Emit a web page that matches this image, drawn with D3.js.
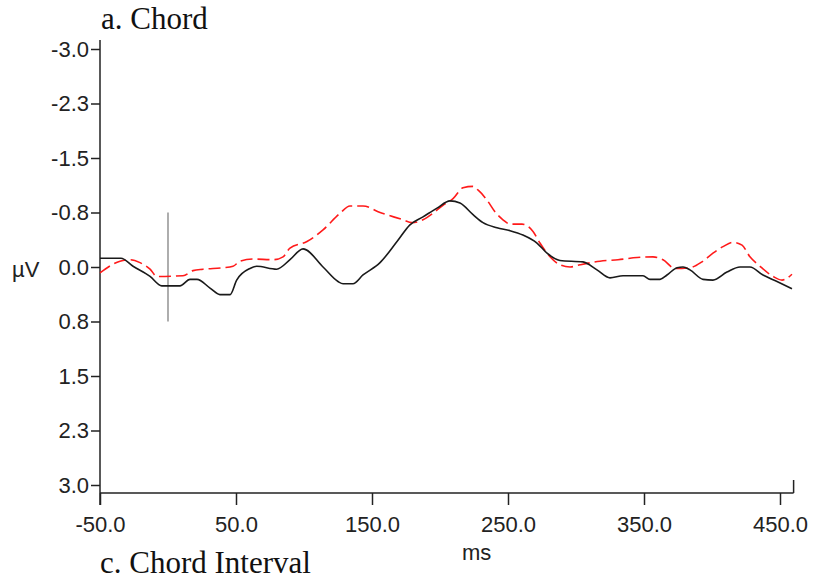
<!DOCTYPE html>
<html>
<head>
<meta charset="utf-8">
<script src="https://cdn.jsdelivr.net/npm/d3@7"></script>
<style>
  html, body { margin: 0; padding: 0; background: #fff; }
  svg { display: block; }
  .tick text { font-family: "Liberation Sans", Arial, sans-serif; font-size: 22px; fill: #222; }
</style>
</head>
<body>
<svg id="chart" width="814" height="586"></svg>
<script>
// Axis ticks (µV axis is drawn with negative up)
const yTickValues = [-3, -2.25, -1.5, -0.75, 0, 0.75, 1.5, 2.25, 3];
const yTickLabels = ["-3.0", "-2.3", "-1.5", "-0.8", "0.0", "0.8", "1.5", "2.3", "3.0"];
const xTickValues = [-50, 50, 150, 250, 350, 450];
const xTickLabels = ["-50.0", "50.0", "150.0", "250.0", "350.0", "450.0"];

// Waveform 1 (solid black): time in ms, amplitude in µV
const wave1Times = [-50, -34.6, -25.7, -13.2, -4.6, 8.8, 16.2, 21.3, 30.9, 38.2, 45.6, 50.5, 60.3, 65.2,
  79.9, 89.7, 99.3, 114, 125, 128.7, 136, 143.4, 155.9, 168.4, 177.9, 187.5, 197.8, 207.4, 214.7,
  224.3, 231.6, 241.9, 251.5, 261, 271.3, 278.7, 288.2, 305.1, 315.4, 325, 334.6, 349.3, 354.4,
  361.8, 366.9, 374.3, 378.7, 383.8, 393.4, 400.7, 411, 420.6, 427.9, 437.5, 447.8, 458.8];
const wave1Values = [-0.12, -0.12, -0.01, 0.13, 0.26, 0.26, 0.17, 0.17, 0.29, 0.38, 0.38, 0.18, 0.02, -0.01,
  0.03, -0.10, -0.25, 0.00, 0.20, 0.23, 0.23, 0.11, -0.06, -0.35, -0.58, -0.69, -0.81, -0.91, -0.88,
  -0.72, -0.61, -0.54, -0.50, -0.44, -0.33, -0.19, -0.09, -0.07, 0.04, 0.15, 0.12, 0.12, 0.17,
  0.17, 0.11, 0.01, 0.00, 0.04, 0.17, 0.18, 0.07, 0.00, 0.00, 0.11, 0.20, 0.30];

// Waveform 2 (dashed red)
const wave2Times = [-50, -35.3, -27.9, -20.6, -13.2, -8.1, 11, 18.4, 25.7, 40.4, 47.8, 52.9, 62.5, 77.2,
  84.6, 89.7, 102.2, 114, 126.5, 133.8, 143.4, 155.9, 172.8, 179.4, 187.5, 194.9, 202.2, 209.6,
  216.9, 224.3, 227.9, 234.6, 240.4, 246.3, 251.5, 260.3, 268.4, 273.5, 280.9, 288.2, 295.6,
  302.9, 317.6, 330.9, 344.9, 356.6, 364, 372.8, 383.8, 392.6, 400.7, 408.1, 415.4, 422.1,
  427.9, 435.3, 444.9, 451.5, 458.8];
const wave2Values = [0.08, -0.08, -0.10, -0.06, 0.03, 0.13, 0.12, 0.05, 0.03, 0.01, -0.01, -0.08, -0.11, -0.10,
  -0.14, -0.26, -0.35, -0.51, -0.74, -0.84, -0.84, -0.75, -0.65, -0.61, -0.65, -0.74, -0.85, -0.94,
  -1.09, -1.11, -1.06, -0.92, -0.76, -0.65, -0.59, -0.59, -0.49, -0.33, -0.14, -0.03, 0.00,
  -0.03, -0.08, -0.10, -0.13, -0.14, -0.10, 0.02, 0.01, -0.07, -0.19, -0.28, -0.34, -0.30,
  -0.14, -0.01, 0.13, 0.18, 0.10];

const onsetTime = 0;          // stimulus onset marker
const onsetSpan = [-0.75, 0.75];
const timeEnd = 460;

const svg = d3.select("#chart");

const x = d3.scaleLinear().domain([-50, 450]).range([100, 780]);
const y = d3.scaleLinear().domain([-3, 3]).range([49, 485]);
const axisY = 493;

// Titles
svg.append("text")
  .attr("x", 101).attr("y", 29)
  .style("font-family", "'Liberation Serif', 'Times New Roman', serif")
  .style("font-size", "31px").style("fill", "#111")
  .text("a. Chord");
svg.append("text")
  .attr("x", 100).attr("y", 573)
  .style("font-family", "'Liberation Serif', 'Times New Roman', serif")
  .style("font-size", "31px").style("fill", "#111")
  .text("c. Chord Interval");

// Y axis
const yAxis = d3.axisLeft(y)
  .tickValues(yTickValues)
  .tickFormat((d, i) => yTickLabels[i])
  .tickSize(9).tickPadding(2);
const gy = svg.append("g").attr("transform", `translate(${x(-50)},0)`).call(yAxis);
gy.select(".domain").remove();
gy.selectAll(".tick line").attr("stroke", "#222").attr("stroke-width", 1.5);

// X axis
const xAxis = d3.axisBottom(x)
  .tickValues(xTickValues)
  .tickFormat((d, i) => xTickLabels[i])
  .tickSize(12).tickPadding(11);
const gx = svg.append("g").attr("transform", `translate(0,${axisY})`).call(xAxis);
gx.select(".domain").remove();
gx.selectAll(".tick line").attr("stroke", "#222").attr("stroke-width", 1.5);

// Axis lines
svg.append("line")
  .attr("x1", x(-50)).attr("x2", x(-50))
  .attr("y1", y(-3) - 9).attr("y2", axisY + 12)
  .attr("stroke", "#222").attr("stroke-width", 1.5);
svg.append("line")
  .attr("x1", x(-50)).attr("x2", x(timeEnd))
  .attr("y1", axisY).attr("y2", axisY)
  .attr("stroke", "#222").attr("stroke-width", 1.5);
svg.append("line")
  .attr("x1", x(timeEnd)).attr("x2", x(timeEnd))
  .attr("y1", axisY - 13).attr("y2", axisY)
  .attr("stroke", "#222").attr("stroke-width", 1.5);

// Axis titles
svg.append("text")
  .attr("x", 12).attr("y", 277)
  .style("font-family", "'Liberation Sans', Arial, sans-serif")
  .style("font-size", "22px").style("fill", "#222")
  .text("µV");
svg.append("text")
  .attr("x", 462).attr("y", 560)
  .style("font-family", "'Liberation Sans', Arial, sans-serif")
  .style("font-size", "22px").style("fill", "#222")
  .text("ms");

// Onset marker
svg.append("line")
  .attr("x1", x(onsetTime)).attr("x2", x(onsetTime))
  .attr("y1", y(onsetSpan[0])).attr("y2", y(onsetSpan[1]))
  .attr("stroke", "#777").attr("stroke-width", 1.2);

const line = d3.line()
  .x(d => x(d[0]))
  .y(d => y(d[1]))
  .curve(d3.curveMonotoneX);

const wave1 = d3.zip(wave1Times, wave1Values);
const wave2 = d3.zip(wave2Times, wave2Values);

svg.append("path")
  .datum(wave2)
  .attr("d", line)
  .attr("fill", "none")
  .attr("stroke", "#ff1a1a")
  .attr("stroke-width", 1.6)
  .attr("stroke-dasharray", "12,5");

svg.append("path")
  .datum(wave1)
  .attr("d", line)
  .attr("fill", "none")
  .attr("stroke", "#1a1a1a")
  .attr("stroke-width", 1.6);
</script>
</body>
</html>
